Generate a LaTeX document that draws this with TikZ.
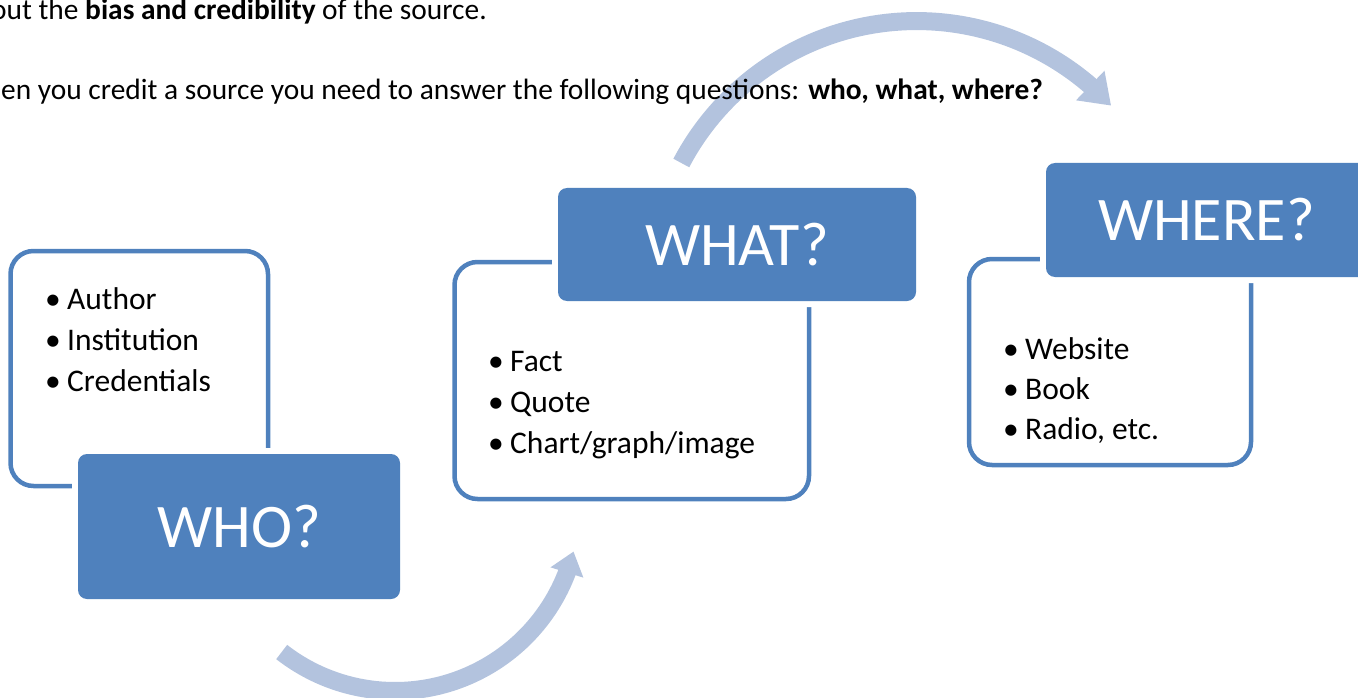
\documentclass[tikz,border=0pt]{standalone}
\usepackage{fontspec}
\setmainfont{Carlito}
\usetikzlibrary{arrows.meta,bending}
\definecolor{boxblue}{HTML}{4F81BD}
\definecolor{arrowblue}{HTML}{B3C3DE}
\begin{document}
\begin{tikzpicture}[x=1pt,y=1pt,
  outbox/.style={draw=boxblue, line width=4.5pt, rounded corners=23pt, fill=white, inner sep=0pt},
  headbox/.style={fill=boxblue, rounded corners=9pt, inner sep=0pt, text=white,
     font=\fontsize{62}{70}\selectfont,
     preaction={draw=white, line width=12pt, rounded corners=9pt}},
  listline/.style={anchor=base west, inner sep=0pt, font=\fontsize{31.5}{40}\selectfont},
  toptext/.style={anchor=base west, inner sep=0pt, font=\fontsize{29.4}{34}\selectfont},
  cyclearrow/.style={draw=arrowblue, line width=18pt, line cap=butt}
]
\useasboundingbox (0,0) rectangle (1358,-698);
\newcommand{\bul}[1]{\makebox[22pt][l]{•}#1}

% outline boxes
\node[outbox, minimum width=257.5pt, minimum height=235pt] (whoO) at (139.25,-368.5) {};
\node[outbox, minimum width=354.5pt, minimum height=237pt] (whatO) at (631.75,-380.5) {};
\node[outbox, minimum width=282pt, minimum height=206pt] (whereO) at (1110,-362) {};

% heading boxes
\node[headbox, minimum width=322pt, minimum height=145pt] (who) at (239,-526.5) {WHO?};
\node[headbox, minimum width=358pt, minimum height=113pt] (what) at (737,-244.5) {WHAT?};
\node[headbox, minimum width=321pt, minimum height=114pt] (where) at (1206.5,-220) {WHERE?};

% arrows
\coordinate (a1s) at (281.7,-652);
\draw[cyclearrow, -{Triangle[length=22pt,width=33pt,flex]}] (a1s) arc[start angle=232, end angle=346, radius=184];
\coordinate (a2s) at (681.3,-163);
\draw[cyclearrow, -{Triangle[length=29pt,width=39pt,flex]}] (a2s) arc[start angle=152.2, end angle=43, radius=266];

% top text
\node[toptext] (t1) at (-9,-20) {out the \textbf{bias and credibility} of the source.};
\node[toptext] (t2) at (1,-100) {en you credit a source you need to answer the following questions: \textbf{who, what, where?}};

% lists
\node[listline] (w1) at (45,-309) {\bul{Author}};
\node[listline] (w2) at (45,-350) {\bul{Institution}};
\node[listline] (w3) at (45,-391) {\bul{Credentials}};

\node[listline] (h1) at (488,-371) {\bul{Fact}};
\node[listline] (h2) at (488,-412) {\bul{Quote}};
\node[listline] (h3) at (488,-453) {\bul{Chart/graph/image}};

\node[listline] (r1) at (1003,-359) {\bul{Website}};
\node[listline] (r2) at (1003,-399) {\bul{Book}};
\node[listline] (r3) at (1003,-439) {\bul{Radio, etc.}};
\end{tikzpicture}
\end{document}
